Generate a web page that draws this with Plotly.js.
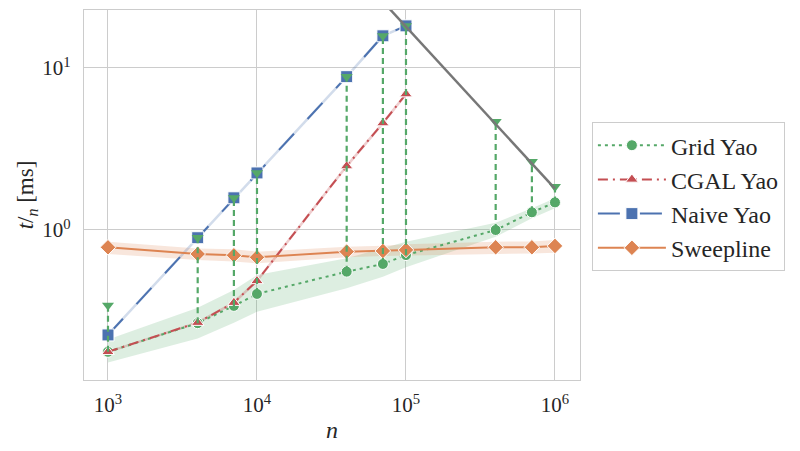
<!DOCTYPE html>
<html>
<head>
<meta charset="utf-8">
<script src="https://cdn.plot.ly/plotly-3.0.1.min.js"></script>
<style>html,body{margin:0;padding:0;background:#fff}#chart{width:800px;height:451px}</style>
</head>
<body>
<div id="chart"></div>
<script>
// ---- data ----
const nValues = [1e3, 4e3, 7e3, 1e4, 4e4, 7e4, 1e5, 4e5, 7e5, 1e6];

const gridYao      = [0.177, 0.266, 0.34, 0.403, 0.553, 0.617, 0.70, 1.0, 1.286, 1.48];
const gridYaoLow   = [0.152, 0.214, 0.268, 0.313, 0.437, 0.515, 0.589, 0.91, 1.18, 1.36];
const gridYaoHigh  = [0.211, 0.331, 0.426, 0.527, 0.669, 0.77, 0.847, 1.11, 1.36, 1.57];

const cgalN   = [1e3, 4e3, 7e3, 1e4, 4e4, 7e4, 1e5];
const cgalYao = [0.177, 0.268, 0.356, 0.485, 2.48, 4.57, 6.9];

const naiveN   = [1e3, 4e3, 7e3, 1e4, 4e4, 7e4, 1e5];
const naiveYao = [0.225, 0.896, 1.58, 2.25, 8.84, 15.8, 18.2];

const sweepline     = [0.782, 0.711, 0.698, 0.678, 0.735, 0.742, 0.753, 0.782, 0.782, 0.797];
const sweeplineLow  = [0.711, 0.653, 0.64, 0.623, 0.678, 0.69, 0.70, 0.711, 0.715, 0.724];
const sweeplineHigh = [0.847, 0.77, 0.76, 0.735, 0.789, 0.80, 0.816, 0.847, 0.85, 0.868];

// upper marks (green down triangles) per n
const gridYaoMax = [0.343, 0.896, 1.58, 2.25, 8.84, 15.8, 18.2, 4.66, 2.64, 1.85];

// reference line (grey)
const refN = [5e4, 1e6];
const refT = [36, 1.8];

const xTickVals = [1e3, 1e4, 1e5, 1e6];
const xTickText = ['10<sup>3</sup>', '10<sup>4</sup>', '10<sup>5</sup>', '10<sup>6</sup>'];
const yTickVals = [1, 10];
const yTickText = ['10<sup>0</sup>', '10<sup>1</sup>'];

// ---- colours ----
const BLUE = '#4C72B0', ORANGE = '#DD8452', GREEN = '#55A868', RED = '#C44E52';

function band(x, lo, hi, color) {
  return {
    x: x.concat(x.slice().reverse()),
    y: hi.concat(lo.slice().reverse()),
    type: 'scatter', mode: 'lines', fill: 'toself',
    fillcolor: color, line: {width: 0}, hoverinfo: 'skip', showlegend: false
  };
}
function thin(x, y, color) {
  return {x: x, y: y, type: 'scatter', mode: 'lines', line: {color: color, width: 2.5},
          showlegend: false, hoverinfo: 'skip'};
}

const traces = [];
traces.push(band(nValues, gridYaoLow, gridYaoHigh, 'rgba(85,168,104,0.2)'));
traces.push(band(nValues, sweeplineLow, sweeplineHigh, 'rgba(221,132,82,0.2)'));
traces.push(thin(cgalN, cgalYao, 'rgba(196,78,82,0.28)'));
traces.push(thin(naiveN, naiveYao, 'rgba(76,114,176,0.25)'));

traces.push({x: nValues, y: gridYao, name: 'Grid Yao', type: 'scatter', mode: 'lines+markers',
  line: {color: GREEN, width: 2, dash: '3px,4px'},
  marker: {symbol: 'circle', size: 11, color: GREEN, line: {color: '#fff', width: 1}}});
traces.push({x: cgalN, y: cgalYao, name: 'CGAL Yao', type: 'scatter', mode: 'lines+markers',
  line: {color: RED, width: 2, dash: '10px,5px,2px,5px'},
  marker: {symbol: 'triangle-up', size: 11, color: RED, line: {color: '#fff', width: 1}}});
traces.push({x: naiveN, y: naiveYao, name: 'Naive Yao', type: 'scatter', mode: 'lines+markers',
  line: {color: BLUE, width: 2, dash: '22px,20px'},
  marker: {symbol: 'square', size: 12, color: BLUE, line: {color: '#fff', width: 1}}});
traces.push({x: nValues, y: sweepline, name: 'Sweepline', type: 'scatter', mode: 'lines+markers',
  line: {color: ORANGE, width: 2},
  marker: {symbol: 'diamond', size: 12, color: ORANGE, line: {color: '#fff', width: 1}}});

// vertical green dashed segments from Grid Yao up to the maxima
for (let i = 0; i < nValues.length; i++) {
  traces.push({x: [nValues[i], nValues[i]], y: [gridYao[i], gridYaoMax[i]], type: 'scatter',
    mode: 'lines', line: {color: GREEN, width: 2.2, dash: '6px,4px'}, showlegend: false, hoverinfo: 'skip'});
}
traces.push({x: nValues, y: gridYaoMax, type: 'scatter', mode: 'markers', showlegend: false,
  marker: {symbol: 'triangle-down', size: 10.5, color: GREEN, line: {width: 0}}});

traces.push({x: refN, y: refT, type: 'scatter', mode: 'lines', showlegend: false,
  line: {color: '#777777', width: 2.5}});

const FONT = '"Liberation Serif", "Times New Roman", "DejaVu Serif", serif';
const layout = {
  width: 800, height: 451,
  margin: {l: 84, r: 220, t: 10, b: 71, pad: 0},
  paper_bgcolor: '#fff', plot_bgcolor: '#fff',
  font: {family: FONT, size: 21, color: '#262626'},
  showlegend: true,
  legend: {x: 1.024, y: 0.697, xanchor: 'left', yanchor: 'top',
    bgcolor: '#fff', bordercolor: '#cccccc', borderwidth: 1, itemwidth: 68,
    font: {family: FONT, size: 24, color: '#262626'}, tracegroupgap: 4},
  xaxis: {type: 'log', range: [2.839, 6.168], tickvals: xTickVals, ticktext: xTickText,
    showgrid: true, gridcolor: '#cccccc', gridwidth: 1, zeroline: false,
    showline: true, linecolor: '#cccccc', linewidth: 1.2, mirror: true, ticks: '',
    ticklabelstandoff: 6, tickfont: {family: FONT, size: 21},
    title: {text: '<i>n</i>', font: {family: FONT, size: 24}, standoff: 4}},
  yaxis: {type: 'log', range: [-0.926, 1.358], tickvals: yTickVals, ticktext: yTickText,
    showgrid: true, gridcolor: '#cccccc', gridwidth: 1, zeroline: false,
    showline: true, linecolor: '#cccccc', linewidth: 1.2, mirror: true, ticks: '',
    ticklabelstandoff: 8, tickfont: {family: FONT, size: 21},
    title: {text: '<i>t</i>/<sub><i>n</i></sub> [ms]', font: {family: FONT, size: 23}, standoff: 2}}
};

Plotly.newPlot('chart', traces, layout, {displayModeBar: false, staticPlot: true});
</script>
</body>
</html>
